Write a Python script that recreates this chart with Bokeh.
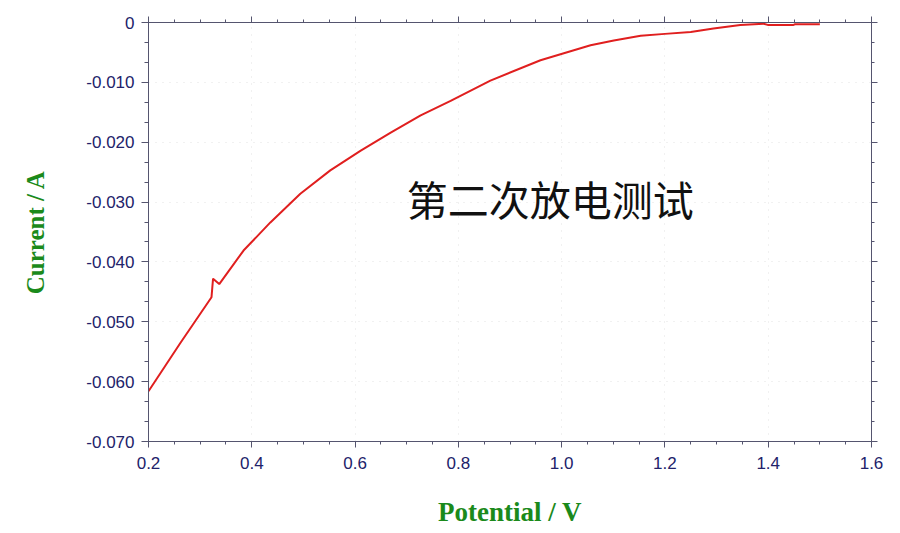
from bokeh.plotting import figure
from bokeh.models import (Range1d, LinearAxis, SingleIntervalTicker, CustomJSTickFormatter, Label)
from bokeh.embed import file_html
from bokeh.resources import INLINE

# Data
potential = [0.200, 0.262, 0.322, 0.325, 0.337, 0.384, 0.436, 0.494, 0.552, 0.611,
             0.669, 0.727, 0.785, 0.862, 0.959, 1.056, 1.101, 1.153, 1.200, 1.250,
             1.294, 1.346, 1.391, 1.399, 1.449, 1.452, 1.500]
current = [-0.0616, -0.0535, -0.0459, -0.0428, -0.0437, -0.0381, -0.0334, -0.0286, -0.0247, -0.0214,
           -0.0184, -0.0155, -0.0131, -0.0097, -0.0063, -0.0038, -0.0030, -0.0022, -0.0019, -0.0016,
           -0.0010, -0.0004, -0.0002, -0.0004, -0.0004, -0.0003, -0.0003]

x_label = "Potential / V"
y_label = "Current / A"
annotation = "第二次放电测试"

AXIS_COL = "#55556f"
TICK_TXT = "#22226a"
GREEN = "#1b8a1b"

p = figure(width=892, height=531, output_backend="svg", toolbar_location=None,
           x_range=Range1d(0.2, 1.6), y_range=Range1d(-0.070, 0.0),
           frame_width=723, frame_height=419,
           min_border_left=148, min_border_right=21, min_border_top=22, min_border_bottom=60,
           x_axis_location=None, y_axis_location=None)
p.outline_line_color = None
p.background_fill_color = "white"
p.border_fill_color = "white"

xfmt = CustomJSTickFormatter(code="return tick.toFixed(1);")
yfmt = CustomJSTickFormatter(code="return Math.abs(tick) < 1e-9 ? '0' : tick.toFixed(3);")
blank = CustomJSTickFormatter(code="return '';")

def make_axis(ticker, fmt, show_labels):
    ax = LinearAxis(ticker=ticker, formatter=fmt)
    ax.axis_line_color = AXIS_COL
    ax.major_tick_line_color = AXIS_COL
    ax.minor_tick_line_color = AXIS_COL
    ax.major_tick_out = 6
    ax.major_tick_in = 0
    ax.minor_tick_out = 3
    ax.minor_tick_in = 0
    ax.major_label_text_font = "Liberation Sans"
    ax.major_label_text_font_size = "17px"
    ax.major_label_text_color = TICK_TXT
    ax.major_label_standoff = 6 if show_labels else 0
    return ax

xt = lambda: SingleIntervalTicker(interval=0.2, num_minor_ticks=4)
yt = lambda: SingleIntervalTicker(interval=0.01, num_minor_ticks=3)

bottom = make_axis(xt(), xfmt, True)
bottom.major_label_standoff = 9
bottom.axis_label = x_label
bottom.axis_label_text_font = "Liberation Serif"
bottom.axis_label_text_font_style = "bold"
bottom.axis_label_text_font_size = "27px"
bottom.axis_label_text_color = GREEN
bottom.axis_label_standoff = 25
p.add_layout(bottom, "below")

left = make_axis(yt(), yfmt, True)
left.major_tick_out = 7
left.minor_tick_out = 4
left.major_label_standoff = 7
left.axis_label = y_label
left.axis_label_text_font = "Liberation Serif"
left.axis_label_text_font_style = "bold"
left.axis_label_text_font_size = "25px"
left.axis_label_text_color = GREEN
left.axis_label_standoff = 34
p.add_layout(left, "left")

top = make_axis(xt(), blank, False)
p.add_layout(top, "above")
right = make_axis(yt(), blank, False)
p.add_layout(right, "right")

# faint dotted grid
p.xgrid.ticker = SingleIntervalTicker(interval=0.2)
p.ygrid.ticker = SingleIntervalTicker(interval=0.01)
for g in (p.xgrid, p.ygrid):
    g.grid_line_color = "#e2e2e2"
    g.grid_line_dash = "1 6"
    g.grid_line_width = 1

p.line(potential, current, line_color="#e01f1f", line_width=2)

p.add_layout(Label(x=0.978, y=-0.0294, text=annotation, text_font="Noto Sans CJK SC",
                   text_font_size="41px", text_color="#111111",
                   text_align="center", text_baseline="middle"))

open("out.html", "w").write(file_html(p, INLINE))
